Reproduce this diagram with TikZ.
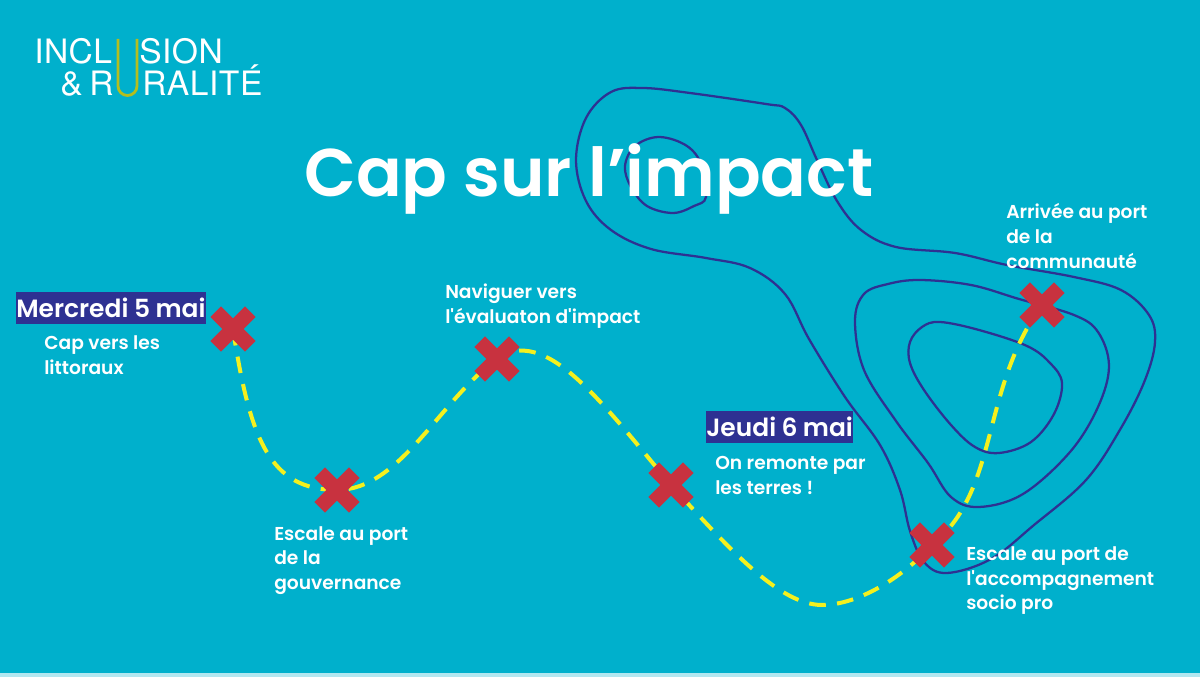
\documentclass[tikz,border=0pt]{standalone}
\usepackage{fontspec}
\setmainfont{Poppins}[BoldFont={Poppins SemiBold}]
\newfontfamily\logofont{TeX Gyre Heros}[LetterSpace=1.5]
\usetikzlibrary{shapes.misc,backgrounds}
\definecolor{seablue}{HTML}{00B0CC}
\definecolor{inkblue}{HTML}{2E3192}
\definecolor{routeyellow}{HTML}{F4F01E}
\definecolor{crossred}{HTML}{C8323F}
\definecolor{logogreen}{HTML}{B4BE1E}
\tikzset{
    port-cross/.style = {cross out, draw=crossred, line width=11.25pt, minimum size=26pt, inner sep=0pt, outer sep=0pt},
    port-label/.style = {anchor=north west, align=left, inner sep=0pt, text=white, font=\fontsize{14pt}{18.4pt}\selectfont\bfseries},
    day-label/.style = {anchor=north west, fill=inkblue, text=white, inner sep=0pt, font=\fontsize{18.7pt}{20pt}\selectfont\bfseries},
    logo-text/.style = {anchor=base west, inner sep=0pt, text=white, font=\logofont\fontsize{25.2pt}{26pt}\selectfont},
    contour/.style = {draw=inkblue, line width=1.7pt, smooth cycle, tension=0.6},
    route/.style = {draw=routeyellow, line width=3pt, dash pattern=on 12.5pt off 8.5pt},
}
\begin{document}
\begin{tikzpicture}[x=0.75pt,y=-0.75pt]
\useasboundingbox (0,0) rectangle (1200,677);

% logo
\node[logo-text] (incl) at (34,64) {INCL};
\node[logo-text] (sion) at (139,64) {SION};
\node[logo-text] (amp) at (60,96) {\&\kern5pt R};
\node[logo-text] (ralite) at (142,96) {RALITÉ};
\draw[logogreen, line width=2.1pt] (118,39) -- (118,86) arc[start angle=180, end angle=0, radius=9.5] -- (137,39);

\node[anchor=base west, inner sep=0pt, text=white, font=\fontsize{50.6pt}{54pt}\selectfont\bfseries] (title) at (304,197) {Cap sur l’impact};

% ports
\node[port-cross] (littoral) at (233,329) {};
\node[port-cross] (gouvernance) at (337,490) {};
\node[port-cross] (evaluation) at (497,359) {};
\node[port-cross] (terres) at (671,485) {};
\node[port-cross] (accompagnement) at (932,545) {};
\node[port-cross] (communaute) at (1042,305) {};

\begin{scope}[on background layer]
\fill[seablue!30!white] (0,0) rectangle (1200,677);
\fill[seablue] (0,0) rectangle (1200,672.5);
% relief
\draw[contour] plot coordinates {(643,88) (690,93) (766,104) (785,108) (801,125) (817,160) (837,201) (861,230) (896,247) (955,253) (1007,265) (1074,277) (1121,290) (1149,315) (1155,342) (1145,380) (1121,428) (1086,480) (1034,525) (991,559) (947,573) (924,562) (910,531) (900,490) (880,445) (845,397) (809,339) (785,294) (750,268) (706,258) (651,249) (611,230) (586,201) (576,160) (586,118) (611,92)};
\draw[contour] plot coordinates {(659,137) (687,146) (702,166) (706,197) (694,206) (673,213) (647,206) (631,187) (625,166) (635,146)};
\draw[contour] plot coordinates {(920,280) (971,285) (1019,299) (1074,315) (1098,332) (1109,366) (1098,407) (1070,452) (1023,494) (979,507) (951,497) (928,463) (896,421) (864,370) (855,321) (864,294) (888,284)};
\draw[contour] plot coordinates {(940,322) (979,330) (1027,346) (1050,363) (1062,383) (1054,414) (1031,442) (999,453) (975,447) (951,425) (924,390) (910,363) (910,342) (922,327)};
\coordinate (creux) at (822,605);
\draw[route] (littoral.center) .. controls (250,440) and (270,490) .. (gouvernance.center)
    .. controls (400,490) and (440,400) .. (evaluation.center)
    .. controls (545,325) and (600,400) .. (terres.center)
    .. controls (730,550) and (780,605) .. (creux)
    .. controls (860,605) and (905,575) .. (accompagnement.center)
    .. controls (1000,490) and (980,390) .. (communaute.center);
\end{scope}

\node[day-label] (mercredi) at (16,292) {\parbox[c][23.5pt]{142pt}{\centering Mercredi 5 mai}};
\node[port-label] (cap) at (44,335.5) {Cap vers les\\littoraux};
\node[port-label] at (274,526) (escale) {Escale au port\\de la\\gouvernance};
\node[port-label] at (445,284) (naviguer) {Naviguer vers\\l\textquotesingle évaluaton d\textquotesingle impact};
\node[day-label] (jeudi) at (706,411) {\parbox[c][23.5pt]{110pt}{\centering Jeudi 6 mai}};
\node[port-label] (remonte) at (715,456) {On remonte par\\les terres !};
\node[port-label] (arrivee) at (1006,203.5) {Arrivée au port\\de la\\communauté};
\node[port-label] (socio) at (966,546.5) {Escale au port de\\l\textquotesingle accompagnement\\socio pro};
\end{tikzpicture}
\end{document}
